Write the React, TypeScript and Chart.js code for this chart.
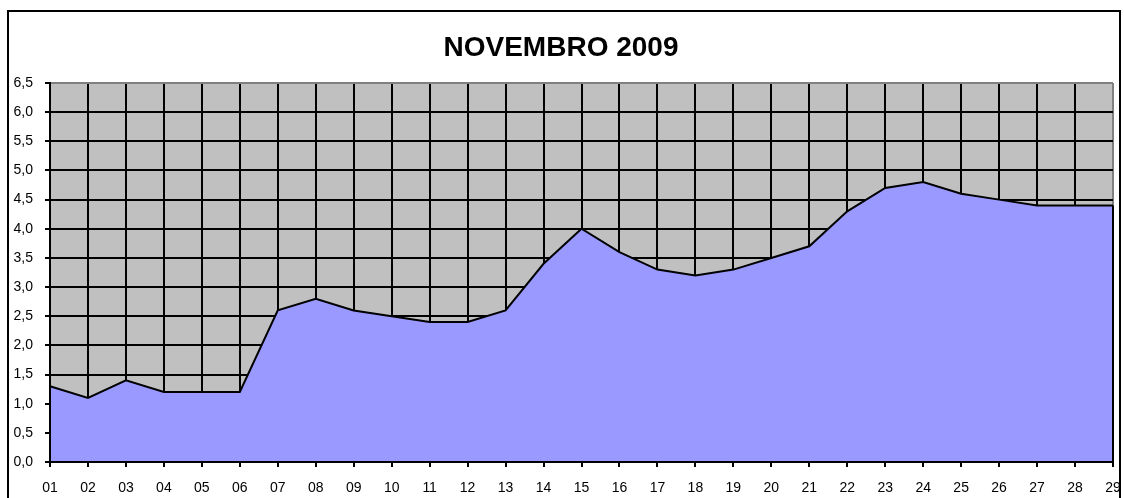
import { useEffect, useRef } from 'react';
import { Chart, registerables } from 'chart.js';

Chart.register(...registerables);

const chartTitle = 'NOVEMBRO 2009';
const days = ['01','02','03','04','05','06','07','08','09','10','11','12','13','14','15','16','17','18','19','20','21','22','23','24','25','26','27','28','29'];
const values = [1.3,1.1,1.4,1.2,1.2,1.2,2.6,2.8,2.6,2.5,2.4,2.4,2.6,3.4,4.0,3.6,3.3,3.2,3.3,3.5,3.7,4.3,4.7,4.8,4.6,4.5,4.4,4.4,4.4];
const yMin = 0;
const yMax = 6.5;
const yStep = 0.5;

const FONT = '"Liberation Sans", Arial, sans-serif';

const framePlugin = {
  id: 'frame',
  beforeDraw(chart: any) {
    const { ctx, chartArea: a } = chart;
    ctx.save();
    ctx.fillStyle = '#C0C0C0';
    ctx.fillRect(a.left, a.top, a.right - a.left, a.bottom - a.top);
    ctx.restore();
  },
  afterDatasetsDraw(chart: any) {
    const { ctx, chartArea: a, scales } = chart;
    const meta = chart.getDatasetMeta(0);
    const last = meta.data[meta.data.length - 1];
    const y0 = scales.y.getPixelForValue(yMin);
    ctx.save();
    ctx.strokeStyle = '#000';
    ctx.lineWidth = 2;
    ctx.beginPath();
    ctx.moveTo(Math.round(last.x), last.y);
    ctx.lineTo(Math.round(last.x), y0);
    ctx.stroke();
    ctx.beginPath();
    ctx.moveTo(Math.round(a.left), a.top);
    ctx.lineTo(Math.round(a.left), Math.round(y0));
    ctx.lineTo(a.right + 1, Math.round(y0));
    ctx.stroke();
    ctx.restore();
  },
};

export default function App() {
  const ref = useRef<HTMLCanvasElement | null>(null);
  useEffect(() => {
    if (!ref.current) return;
    const chart = new Chart(ref.current, {
      type: 'line',
      data: {
        labels: days,
        datasets: [
          {
            data: values,
            borderColor: '#000',
            borderWidth: 2,
            backgroundColor: '#9999FF',
            fill: 'origin',
            pointRadius: 0,
            tension: 0,
          },
        ],
      },
      options: {
        animation: false,
        responsive: false,
        layout: { padding: { left: 0, right: 6, top: 0, bottom: 0 } },
        plugins: {
          legend: { display: false },
          tooltip: { enabled: false },
          title: {
            display: true,
            text: chartTitle,
            color: '#000',
            font: { family: FONT, size: 28, weight: 'bold' },
            padding: { top: 19, bottom: 18.4 },
          },
        },
        scales: {
          x: {
            type: 'category',
            offset: false,
            grid: {
              color: (c: any) => (c.index === days.length - 1 ? '#808080' : '#000'),
              lineWidth: 2,
              tickLength: 5,
              tickColor: '#000',
              tickWidth: 2,
            },
            border: { display: true, color: '#000', width: 2 },
            ticks: {
              color: '#000',
              font: { family: FONT, size: 14 },
              padding: 13,
              maxRotation: 0,
              autoSkip: false,
            },
            afterFit: (s: any) => {
              s.height = 36;
              s.paddingLeft = 0;
              s.paddingRight = 0;
            },
          },
          y: {
            min: yMin,
            max: yMax,
            grid: {
              color: (c: any) => (c.tick && c.tick.value === yMax ? '#808080' : '#000'),
              lineWidth: 2,
              tickLength: 5,
              tickColor: '#000',
              tickWidth: 2,
            },
            border: { display: true, color: '#000', width: 2 },
            ticks: {
              stepSize: yStep,
              color: '#000',
              font: { family: FONT, size: 14 },
              padding: 12,
              callback: (v: any) => Number(v).toFixed(1).replace('.', ','),
            },
            afterFit: (s: any) => {
              s.width = 41;
              s.paddingTop = 0;
              s.paddingBottom = 0;
            },
          },
        },
      },
      plugins: [framePlugin],
    });
    return () => chart.destroy();
  }, []);

  return (
    <div
      style={{
        position: 'absolute',
        left: 7,
        top: 10,
        width: 1110,
        height: 486,
        borderTop: '2px solid #000',
        borderLeft: '2px solid #000',
        borderRight: '2px solid #000',
        overflow: 'hidden',
        background: '#fff',
      }}
    >
      <canvas ref={ref} width={1110} height={486} style={{ display: 'block' }} />
    </div>
  );
}
